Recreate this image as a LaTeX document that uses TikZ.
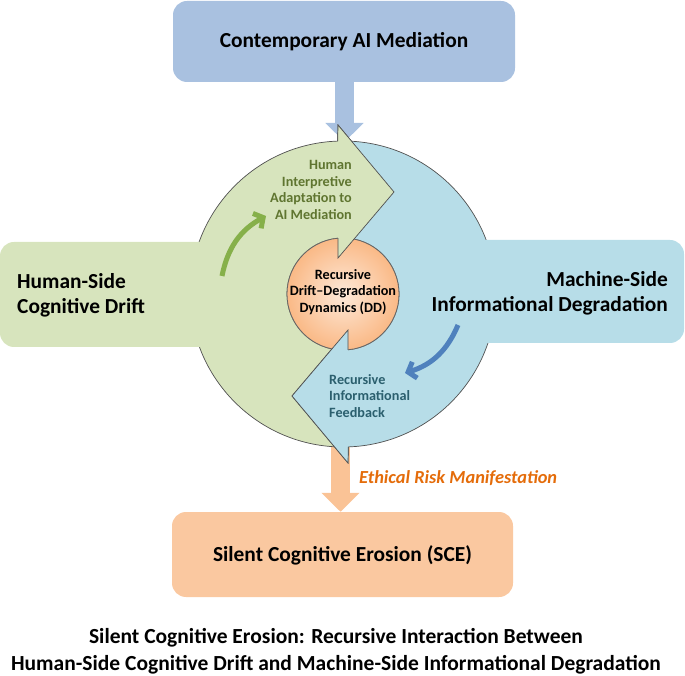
\documentclass[tikz,border=0pt]{standalone}
\usepackage{fontspec}
\setmainfont{Carlito}
\usetikzlibrary{arrows.meta}
\definecolor{boxblue}{HTML}{A9C1E0}
\definecolor{ringgreen}{HTML}{D7E4BD}
\definecolor{ringblue}{HTML}{B7DDE8}
\definecolor{peach}{HTML}{FAC8A0}
\definecolor{peacharrow}{HTML}{FAC396}
\definecolor{olivetext}{HTML}{5F7530}
\definecolor{tealtext}{HTML}{2B5F6E}
\definecolor{ethic}{HTML}{E46C0A}
\definecolor{garrow}{HTML}{86B04A}
\definecolor{barrow}{HTML}{4F81BD}
\definecolor{outl}{HTML}{505050}
\definecolor{ddin}{HTML}{FDE9D9}
\definecolor{ddout}{HTML}{FAB986}
\begin{document}
\begin{tikzpicture}[x=1pt,y=1pt,
 boxstyle/.style={rectangle, rounded corners=14pt, inner sep=0pt},
 bigtext/.style={font=\fontsize{21.4}{25}\selectfont\bfseries, inner sep=0pt},
 smalltext/.style={font=\fontsize{14.2}{16.5}\selectfont\bfseries, inner sep=0pt},
 captext/.style={font=\fontsize{21.5}{27}\selectfont\bfseries, inner sep=0pt, align=center},
 ringedge/.style={draw=outl, line width=0.7pt},
 blockarrow/.style={line width=18.5pt, -{Triangle[length=19pt,width=37pt]}},
 curvearrow/.style={line width=5pt, -{Straight Barb[length=7pt,width=17pt]}}]
\useasboundingbox (0,0) rectangle (685,675);

% boxes top and bottom
\node[boxstyle, fill=boxblue, minimum width=342pt, minimum height=81pt] (top) at (344,633.5) {};
\node[boxstyle, fill=peach, minimum width=341pt, minimum height=85pt] (sce) at (342.5,120.5) {};

% block arrows (behind the cycle)
\coordinate (toptip) at (344.5,533);
\coordinate (ddlow) at (340.5,245);
\draw[blockarrow, boxblue] (top.south -| toptip) -- (toptip);
\draw[blockarrow, peacharrow] (ddlow) -- (ddlow |- sce.north);

% rings
\filldraw[fill=ringgreen, ringedge] (343,228) arc[start angle=270, end angle=92, radius=153]
  -- (338,550) -- (394,483) -- (338,417) -- (338,436.8)
  arc[start angle=95.1, end angle=270, radius=56] -- cycle;
\filldraw[fill=ringblue, ringedge] (343,534) arc[start angle=90, end angle=-88, radius=153]
  -- (348,212) -- (292,279) -- (348,345) -- (348,325.2)
  arc[start angle=-84.9, end angle=90, radius=56] -- cycle;

% side boxes
\node[boxstyle, fill=ringgreen, minimum width=260pt, minimum height=105pt] (human) at (130,380.5) {};
\node[boxstyle, fill=ringblue, minimum width=256pt, minimum height=103pt] (machine) at (556,383.5) {};

% centre circle
\node[circle, minimum size=112pt, inner sep=0pt, inner color=ddin, outer color=ddout,
      draw=gray!80!black, line width=0.8pt] (dd) at (343,381) {};

% arrow heads on top
\fill[ringgreen] (338,550) -- (394,483) -- (338,417) -- cycle;
\draw[ringedge] (337.7,533.9) -- (338,550) -- (394,483) -- (338,417) -- (338,436.8);
\fill[ringblue] (348,212) -- (292,279) -- (348,345) -- cycle;
\draw[ringedge] (348.3,228.1) -- (348,212) -- (292,279) -- (348,345) -- (348,325.2);

% curved arrows
\coordinate (g1) at (222,399);
\coordinate (g2) at (266,459);
\draw[curvearrow, garrow] (g1) to[bend left=25] (g2);
\coordinate (b1) at (458,350);
\coordinate (b2) at (405,302);
\draw[curvearrow, barrow] (b1) to[bend left=25] (b2);

% texts
\node[bigtext] (toptext) at (top.center) {Contemporary AI Mediation};
\node[bigtext, anchor=west, align=left] (humantext) at (17,380) {Human-Side\\Cognitive Drift};
\node[bigtext, anchor=east, align=right] (machinetext) at (668,381.5) {Machine-Side\\Informational Degradation};
\node[bigtext] (scetext) at (342.5,120) {Silent Cognitive Erosion (SCE)};
\node[smalltext, anchor=east, align=right, text=olivetext] (adapt) at (352,485) {Human\\Interpretive\\Adaptation to\\AI Mediation};
\node[smalltext, align=center] (ddtext) at (343,383) {Recursive\\Drift–Degradation\\Dynamics (DD)};
\node[smalltext, anchor=west, align=left, text=tealtext] (feedback) at (329,279) {Recursive\\Informational\\Feedback};
\node[font=\fontsize{18.4}{21}\selectfont\bfseries\itshape, text=ethic, anchor=west, inner sep=0pt] (ethics) at (359,197) {Ethical Risk Manifestation};
\node[captext] (caption) at (336,23.5) {Silent Cognitive Erosion: Recursive Interaction Between\\Human-Side Cognitive Drift and Machine-Side Informational Degradation};
\end{tikzpicture}
\end{document}
